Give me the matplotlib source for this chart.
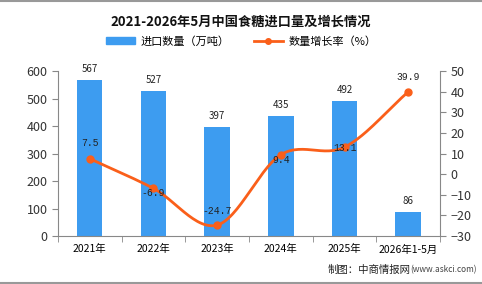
import numpy as np
import matplotlib
matplotlib.use("Agg")
import matplotlib.pyplot as plt
from matplotlib.lines import Line2D
from matplotlib.patches import Patch

plt.rcParams['font.family'] = ['Noto Sans CJK SC', 'DejaVu Sans']

categories = ["2021年", "2022年", "2023年", "2024年", "2025年", "2026年1-5月"]
imports = [567, 527, 397, 435, 492, 86]
growth = [7.5, -6.9, -24.7, 9.4, 13.1, 39.9]

bar_color = "#3d9cf0"
line_color = "#fa5f1a"
axis_color = "#888888"
# vertical label offsets (points) for the growth labels
label_offsets = [11, -3, 10, -4, -1, 11]


def catmull_rom(x, y, n=30):
    # smooth display curve through the data points
    x = np.asarray(x, float)
    y = np.asarray(y, float)
    px = np.concatenate([[2 * x[0] - x[1]], x, [2 * x[-1] - x[-2]]])
    py = np.concatenate([[2 * y[0] - y[1]], y, [2 * y[-1] - y[-2]]])
    xs, ys = [], []
    for i in range(1, len(px) - 2):
        t = np.linspace(0, 1, n)
        for p, out in ((px, xs), (py, ys)):
            p0, p1, p2, p3 = p[i - 1], p[i], p[i + 1], p[i + 2]
            out.append(0.5 * (2 * p1 + (-p0 + p2) * t
                              + (2 * p0 - 5 * p1 + 4 * p2 - p3) * t ** 2
                              + (-p0 + 3 * p1 - 3 * p2 + p3) * t ** 3))
    return np.concatenate(xs), np.concatenate(ys)


fig = plt.figure(figsize=(4.82, 2.84), dpi=100)
ax = fig.add_axes([0.120, 0.169, 0.793, 0.581])
x = np.arange(len(categories))

ax.bar(x, imports, width=0.4, color=bar_color, zorder=2)
for xi, v in zip(x, imports):
    ax.text(xi, v + 22, str(v), ha="center", va="bottom", fontsize=7, color="#222222")

ax.set_xlim(-0.5, len(categories) - 0.5)
ax.set_ylim(0, 600)
ax.set_yticks(range(0, 601, 100))
ax.set_xticks(x)
ax.set_xticklabels(categories, fontsize=7.5)
ax.set_xticks(np.arange(-0.5, len(categories), 1), minor=True)
ax.tick_params(axis="x", which="major", length=0, pad=6)
ax.tick_params(axis="x", which="minor", length=4, color=axis_color)
ax.tick_params(axis="y", labelsize=9, color=axis_color, length=4, labelcolor="#333333")
for side in ("top", "right"):
    ax.spines[side].set_visible(False)
for side in ("left", "bottom"):
    ax.spines[side].set_color(axis_color)

ax2 = ax.twinx()
ax2.set_ylim(-30, 50)
ax2.set_yticks(range(-30, 51, 10))
ax2.tick_params(axis="y", labelsize=9, color=axis_color, length=4, labelcolor="#333333")
for side in ("top", "left", "bottom"):
    ax2.spines[side].set_visible(False)
ax2.spines["right"].set_color(axis_color)

sx, sy = catmull_rom(x, growth)
ax2.plot(sx, sy, color=line_color, lw=2, zorder=3)
ax2.plot(x, growth, "o", color=line_color, ms=5, zorder=4)
for xi, g, off in zip(x, growth, label_offsets):
    ax2.annotate(f"{g}", (xi, g), xytext=(0, off), textcoords="offset points",
                 ha="center", va="center", fontsize=7, color="#222222",
                 family=["Liberation Mono", "DejaVu Sans"], zorder=5)

fig.text(0.5, 0.925, "2021-2026年5月中国食糖进口量及增长情况", ha="center", va="center",
         fontsize=9.5, fontweight="bold", color="#111111")
handles = [Patch(color=bar_color),
           Line2D([0], [0], color=line_color, lw=2, marker="o", ms=4)]
fig.legend(handles, ["进口数量（万吨）", "数量增长率（%）"], loc="center",
           bbox_to_anchor=(0.5, 0.855), ncol=2, frameon=False, fontsize=8,
           handlelength=2.6, handleheight=0.7, handletextpad=0.5, columnspacing=2.2)
fig.text(0.851, 0.05, "制图：中商情报网", ha="right", va="center", fontsize=7.5,
         color="#222222")
fig.text(0.851, 0.05, "(www.askci.com)", ha="left", va="center", fontsize=6,
         color="#444444")

fig.add_artist(Line2D([0, 1], [0.998, 0.998], color="#999999", lw=1.5))
fig.add_artist(Line2D([0, 1], [0.003, 0.003], color="#999999", lw=1.5))

fig.savefig("out.png", dpi=100)
